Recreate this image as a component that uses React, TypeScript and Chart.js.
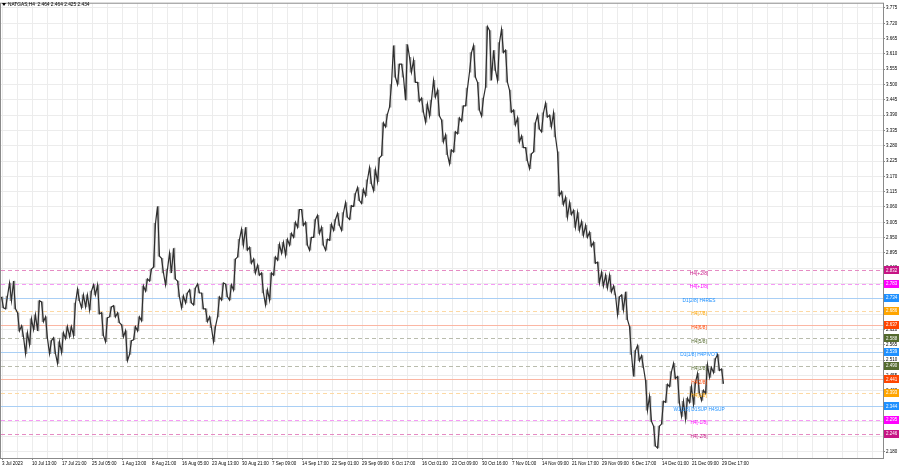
import React, { useEffect, useRef } from "react";
import { Chart, registerables } from "chart.js";

Chart.register(...registerables);

const TITLE = "NATGAS,H4  2.464 2.464 2.425 2.434";

// price axis tick labels
const PRICE_TICKS = [3.775, 3.72, 3.665, 3.61, 3.555, 3.5, 3.445, 3.39, 3.335, 3.28, 3.225, 3.17, 3.115, 3.06, 3.005, 2.95, 2.895, 2.84, 2.785, 2.73, 2.675, 2.62, 2.565, 2.51, 2.455, 2.4, 2.345, 2.29, 2.235, 2.18];

// time axis labels (every 30 H4 bars)
const X_LABELS = ["3 Jul 2023", "10 Jul 13:00", "17 Jul 21:00", "25 Jul 05:00", "1 Aug 13:00", "8 Aug 21:00", "16 Aug 05:00", "23 Aug 13:00", "30 Aug 21:00", "7 Sep 09:00", "14 Sep 17:00", "22 Sep 01:00", "29 Sep 09:00", "6 Oct 17:00", "16 Oct 01:00", "23 Oct 09:00", "30 Oct 16:00", "7 Nov 01:00", "14 Nov 09:00", "21 Nov 17:00", "29 Nov 09:00", "6 Dec 17:00", "14 Dec 01:00", "21 Dec 09:00", "29 Dec 17:00"];

// price range of each group of 4 consecutive H4 candles
const HIGH = [
  2.737, 2.740, 2.787, 2.794, 2.680, 2.633, 2.608, 2.658, 2.673, 2.723,
  2.719, 2.665, 2.580, 2.590, 2.576, 2.608, 2.630, 2.630, 2.715, 2.765,
  2.744, 2.744, 2.758, 2.780, 2.780, 2.680, 2.662, 2.701, 2.705, 2.680,
  2.637, 2.615, 2.580, 2.630, 2.665, 2.776, 2.801, 2.837, 3.001, 3.062,
  2.876, 2.837, 2.894, 2.912, 2.794, 2.740, 2.751, 2.762, 2.769, 2.783,
  2.751, 2.694, 2.665, 2.630, 2.737, 2.787, 2.783, 2.780, 2.873, 2.944,
  2.980, 2.987, 2.915, 2.873, 2.851, 2.823, 2.762, 2.823, 2.880, 2.926,
  2.933, 2.944, 2.965, 3.005, 3.051, 3.051, 3.005, 2.951, 3.015, 3.030,
  2.987, 2.944, 2.998, 3.015, 3.037, 3.040, 3.076, 3.065, 3.108, 3.130,
  3.123, 3.158, 3.201, 3.194, 3.237, 3.362, 3.394, 3.501, 3.640, 3.573,
  3.573, 3.644, 3.598, 3.587, 3.508, 3.451, 3.430, 3.444, 3.515, 3.480,
  3.373, 3.319, 3.265, 3.330, 3.380, 3.423, 3.487, 3.615, 3.640, 3.508,
  3.451, 3.708, 3.694, 3.623, 3.651, 3.698, 3.623, 3.480, 3.408, 3.380,
  3.315, 3.273, 3.251, 3.362, 3.390, 3.398, 3.433, 3.390, 3.398, 3.258,
  3.115, 3.094, 3.076, 3.048, 3.040, 3.008, 2.994, 2.969, 2.933, 2.862,
  2.826, 2.815, 2.815, 2.776, 2.737, 2.744, 2.755, 2.630, 2.544, 2.562,
  2.526, 2.437, 2.380, 2.273, 2.273, 2.362, 2.423, 2.469, 2.498, 2.451,
  2.362, 2.373, 2.415, 2.430, 2.462, 2.401, 2.494, 2.483, 2.515, 2.530,
  2.478,
];
const LOW = [
  2.698, 2.694, 2.723, 2.694, 2.615, 2.594, 2.533, 2.565, 2.619, 2.615,
  2.648, 2.587, 2.533, 2.533, 2.498, 2.537, 2.587, 2.594, 2.598, 2.723,
  2.698, 2.701, 2.690, 2.744, 2.676, 2.598, 2.576, 2.665, 2.665, 2.644,
  2.594, 2.508, 2.530, 2.583, 2.615, 2.651, 2.758, 2.794, 2.844, 2.883,
  2.823, 2.780, 2.823, 2.801, 2.737, 2.698, 2.715, 2.715, 2.708, 2.751,
  2.694, 2.648, 2.626, 2.576, 2.665, 2.726, 2.737, 2.726, 2.762, 2.880,
  2.923, 2.905, 2.858, 2.823, 2.815, 2.751, 2.708, 2.726, 2.815, 2.869,
  2.894, 2.887, 2.923, 2.951, 2.987, 2.994, 2.923, 2.905, 2.951, 2.965,
  2.923, 2.905, 2.940, 2.976, 2.994, 2.976, 3.023, 3.015, 3.062, 3.083,
  3.073, 3.101, 3.144, 3.119, 3.151, 3.244, 3.348, 3.419, 3.526, 3.501,
  3.526, 3.444, 3.544, 3.508, 3.440, 3.401, 3.365, 3.387, 3.455, 3.387,
  3.294, 3.248, 3.215, 3.258, 3.323, 3.369, 3.423, 3.544, 3.526, 3.408,
  3.387, 3.490, 3.515, 3.551, 3.515, 3.615, 3.508, 3.401, 3.355, 3.294,
  3.273, 3.226, 3.198, 3.258, 3.340, 3.330, 3.383, 3.348, 3.312, 3.101,
  3.069, 3.023, 3.033, 2.987, 2.976, 2.958, 2.951, 2.919, 2.858, 2.787,
  2.776, 2.769, 2.755, 2.744, 2.673, 2.690, 2.655, 2.530, 2.451, 2.508,
  2.483, 2.330, 2.290, 2.201, 2.194, 2.280, 2.358, 2.415, 2.444, 2.355,
  2.308, 2.298, 2.358, 2.351, 2.390, 2.365, 2.390, 2.448, 2.465, 2.473,
  2.425,
];

// Murrey-math style levels
const LEVEL_NAMES = ["H4[+2/8]", "H4[+1/8]", "D1[2/8] H4RES", "H4[7/8]", "H4[6/8]", "H4[5/8]", "D1[1/8] H4PIVOT", "H4[3/8]", "H4[2/8]", "H4[1/8]", "W1[1/8] D1SUP H4SUP", "H4[-1/8]", "H4[-2/8]"];
const LEVEL_VALUES = [2.832, 2.783, 2.734, 2.686, 2.637, 2.588, 2.539, 2.490, 2.441, 2.393, 2.344, 2.295, 2.246];
const LEVEL_COLORS = ["#c71585", "#ff00ff", "#1e90ff", "#ffa500", "#ff4500", "#556b2f", "#1e90ff", "#556b2f", "#ff4500", "#ffa500", "#1e90ff", "#ff00ff", "#c71585"];
const LEVEL_LINE_COLORS = ["#e58bc3", "#f59af5", "#a9cff5", "#fdd9a3", "#fbb7a4", "#b9bcad", "#a9cff5", "#b9bcad", "#fbb7a4", "#fdd9a3", "#a9cff5", "#f59af5", "#e58bc3"];
const LEVEL_DASHED = [true, true, false, true, false, true, false, true, false, true, false, true, true];

const BARS_PER_GROUP = 4;
const LABEL_X_BAR = 698; // bar index where level names are centered
const FONT = "'Liberation Sans', Arial, sans-serif";

export default function App() {
  const ref = useRef<HTMLCanvasElement | null>(null);

  useEffect(() => {
    const canvas = ref.current;
    if (!canvas) return;

    // each group is traced low->high when the next group is higher, high->low otherwise
    const path: { x: number; y: number }[] = [];
    HIGH.forEach((h, i) => {
      const l = LOW[i];
      const nextUp = i < HIGH.length - 1 ? HIGH[i + 1] + LOW[i + 1] > h + l : false;
      const x0 = i * BARS_PER_GROUP;
      if (nextUp) {
        path.push({ x: x0 + 0.5, y: l }, { x: x0 + 2.5, y: h });
      } else {
        path.push({ x: x0 + 0.5, y: h }, { x: x0 + 2.5, y: l });
      }
    });
    const wicks = HIGH.map((h, i) => ({ x: i * BARS_PER_GROUP + 1.5, y: [LOW[i], h] }));

    const gridTicks: number[] = [];
    for (let v = 1; v <= 882; v += 15) gridTicks.push(v);

    const levelPlugin = {
      id: "levels",
      beforeDatasetsDraw(chart: any) {
        const { ctx, chartArea, scales } = chart;
        ctx.save();
        LEVEL_VALUES.forEach((v, i) => {
          const y = Math.round(scales.y.getPixelForValue(v)) + 0.5;
          ctx.strokeStyle = LEVEL_LINE_COLORS[i];
          ctx.lineWidth = 1;
          ctx.setLineDash(LEVEL_DASHED[i] ? [4, 3] : []);
          ctx.beginPath();
          ctx.moveTo(chartArea.left, y);
          ctx.lineTo(chartArea.right, y);
          ctx.stroke();
        });
        ctx.restore();
      },
      afterDatasetsDraw(chart: any) {
        const { ctx, scales } = chart;
        ctx.save();
        ctx.font = `4.8px ${FONT}`;
        ctx.textAlign = "center";
        ctx.textBaseline = "middle";
        const lx = scales.x.getPixelForValue(LABEL_X_BAR);
        LEVEL_VALUES.forEach((v, i) => {
          const y = scales.y.getPixelForValue(v);
          ctx.fillStyle = LEVEL_COLORS[i];
          ctx.fillText(LEVEL_NAMES[i], lx, y + 3);
        });
        ctx.restore();
      },
      afterDraw(chart: any) {
        const { ctx, chartArea, scales } = chart;
        ctx.save();
        ctx.strokeStyle = "#8a8a8a";
        ctx.lineWidth = 1;
        ctx.strokeRect(chartArea.left - 0.5, chartArea.top - 0.5, chartArea.right - chartArea.left + 1, chartArea.bottom - chartArea.top + 1);
        ctx.font = `4.5px ${FONT}`;
        ctx.textAlign = "left";
        ctx.textBaseline = "middle";
        LEVEL_VALUES.forEach((v, i) => {
          const y = scales.y.getPixelForValue(v);
          ctx.fillStyle = LEVEL_COLORS[i];
          ctx.fillRect(chartArea.right + 1, Math.round(y - 4), 15, 8);
          ctx.fillStyle = "#ffffff";
          ctx.fillText(v.toFixed(3), chartArea.right + 3, y);
        });
        ctx.fillStyle = "#000";
        ctx.beginPath();
        ctx.moveTo(2, 3);
        ctx.lineTo(6, 3);
        ctx.lineTo(4, 6);
        ctx.closePath();
        ctx.fill();
        ctx.font = `4.8px ${FONT}`;
        ctx.textBaseline = "middle";
        ctx.fillText(TITLE, 8, 5);
        ctx.restore();
      },
    };

    const chart = new Chart(canvas, {
      type: "bar",
      data: {
        datasets: [
          {
            type: "bar",
            data: wicks as any,
            backgroundColor: "#9a9a9a",
            barThickness: 1,
            grouped: false,
            order: 2,
          } as any,
          {
            type: "line",
            data: path as any,
            borderColor: "#2e2e2e",
            borderWidth: 1.2,
            pointRadius: 0,
            tension: 0,
            fill: false,
            order: 1,
          } as any,
        ],
      },
      options: {
        animation: false,
        responsive: false,
        devicePixelRatio: 1,
        events: [],
        layout: { padding: { left: 1, top: 1, right: 0, bottom: 0 } },
        plugins: { legend: { display: false }, tooltip: { enabled: false }, title: { display: false } },
        scales: {
          x: {
            type: "linear",
            position: "bottom",
            min: 0,
            max: 882,
            offset: false,
            afterBuildTicks: (s: any) => {
              s.ticks = gridTicks.map((v) => ({ value: v }));
            },
            afterFit: (s: any) => {
              s.height = 10;
            },
            ticks: {
              autoSkip: false,
              maxRotation: 0,
              align: "start",
              padding: 1,
              color: "#000",
              font: { size: 4.5, family: FONT },
              callback: (_v: any, i: number) => (i % 2 === 0 ? X_LABELS[i / 2] ?? "" : ""),
            },
            grid: {
              color: "#ececec",
              tickLength: 2,
              offset: false,
              tickColor: (c: any) => (c.index % 2 === 0 && c.index / 2 < X_LABELS.length ? "#888" : "rgba(0,0,0,0)"),
            },
            border: { display: false },
          },
          y: {
            type: "linear",
            position: "right",
            min: 2.15821,
            max: 3.79036,
            afterBuildTicks: (s: any) => {
              s.ticks = PRICE_TICKS.map((v) => ({ value: v }));
            },
            afterFit: (s: any) => {
              s.width = 17;
            },
            ticks: {
              autoSkip: false,
              padding: 1,
              color: "#000",
              font: { size: 4.5, family: FONT },
              callback: (v: any) => Number(v).toFixed(3),
            },
            grid: { color: "#ececec", tickLength: 2, tickColor: "#888" },
            border: { display: false },
          },
        },
      } as any,
      plugins: [levelPlugin],
    });
    return () => chart.destroy();
  }, []);

  return (
    <div style={{ position: "fixed", left: 0, top: 0, width: 900, height: 468, background: "#fff" }}>
      <canvas ref={ref} width={900} height={468} style={{ width: 900, height: 468, display: "block" }} />
    </div>
  );
}
